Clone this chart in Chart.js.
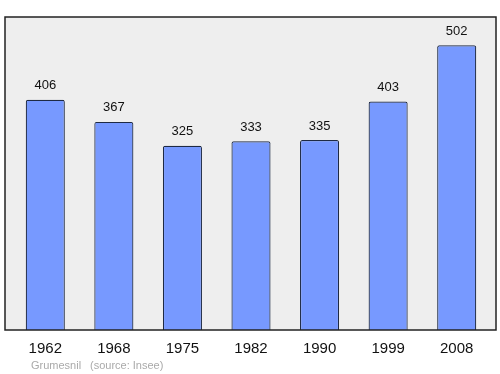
<!DOCTYPE html>
<html>
<head>
<meta charset="utf-8">
<script src="https://cdn.jsdelivr.net/npm/chart.js@4/dist/chart.umd.min.js"></script>
<style>
html,body{margin:0;padding:0;background:#fff;}
#wrap{width:500px;height:374px;position:relative;}
</style>
</head>
<body>
<div id="wrap"><canvas id="c" width="500" height="374"></canvas></div>
<script>
const years = ["1962","1968","1975","1982","1990","1999","2008"];
const population = [406, 367, 325, 333, 335, 403, 502];
const placeName = "Grumesnil";
const sourceText = "(source: Insee)";

const frame = {
  id: 'frame',
  beforeDatasetsDraw(chart) {
    const a = chart.chartArea, ctx = chart.ctx;
    ctx.save();
    ctx.fillStyle = '#eeeeee';
    ctx.fillRect(a.left - 6, a.top, a.right - a.left + 11, a.bottom - a.top);
    ctx.restore();
  },
  afterDatasetsDraw(chart) {
    const a = chart.chartArea, ctx = chart.ctx;
    ctx.save();
    ctx.strokeStyle = '#222222';
    ctx.lineWidth = 1.5;
    ctx.strokeRect(a.left - 6, a.top, a.right - a.left + 11, a.bottom - a.top);
    const meta = chart.getDatasetMeta(0);
    ctx.fillStyle = '#111111';
    ctx.font = '13px "Liberation Sans", Arial, sans-serif';
    ctx.textAlign = 'center';
    ctx.textBaseline = 'middle';
    meta.data.forEach((bar, i) => {
      ctx.fillText(String(population[i]), bar.x, bar.y - 14);
    });
    ctx.fillStyle = '#aaaaaa';
    ctx.font = '11px "Liberation Sans", Arial, sans-serif';
    ctx.textAlign = 'left';
    ctx.fillText(placeName, 31, 366);
    ctx.fillText(sourceText, 90, 366);
    ctx.restore();
  }
};

new Chart(document.getElementById('c'), {
  type: 'bar',
  data: {
    labels: years,
    datasets: [{
      data: population,
      backgroundColor: '#7799ff',
      borderColor: '#1e2a44',
      borderWidth: 1.2,
      borderSkipped: 'bottom',
      borderRadius: 2,
      categoryPercentage: 1,
      barPercentage: 0.57
    }]
  },
  options: {
    responsive: false,
    animation: false,
    layout: { padding: { left: 11, right: 9, top: 17, bottom: 0 } },
    plugins: { legend: { display: false }, tooltip: { enabled: false } },
    scales: {
      y: { display: false, min: 0, max: 552 },
      x: {
        grid: { display: false },
        border: { display: false },
        ticks: {
          color: '#111111',
          padding: 2,
          font: { size: 15, family: '"Liberation Sans", Arial, sans-serif' }
        },
        afterFit(scale) { scale.height = 44; }
      }
    }
  },
  plugins: [frame]
});
</script>
</body>
</html>
